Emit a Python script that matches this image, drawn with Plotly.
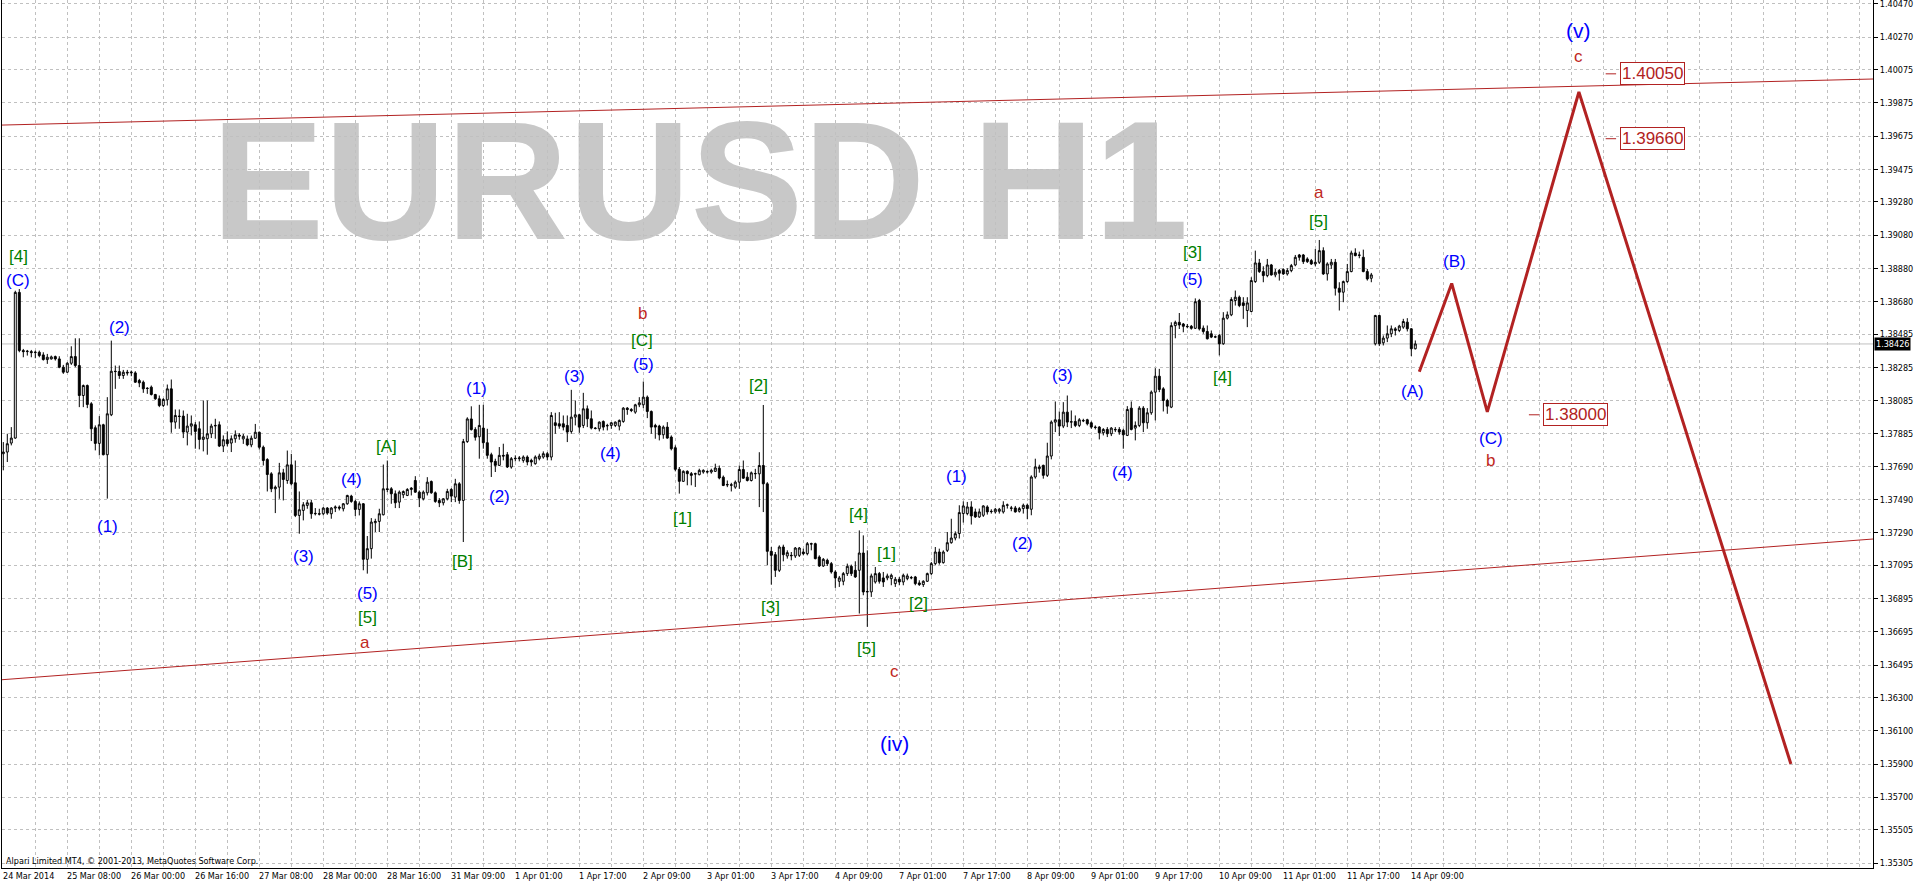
import plotly.graph_objects as go

# ---------------- data ----------------
time_labels = ["24 Mar 2014", "25 Mar 08:00", "26 Mar 00:00", "26 Mar 16:00", "27 Mar 08:00",
               "28 Mar 00:00", "28 Mar 16:00", "31 Mar 09:00", "1 Apr 01:00", "1 Apr 17:00",
               "2 Apr 09:00", "3 Apr 01:00", "3 Apr 17:00", "4 Apr 09:00", "7 Apr 01:00",
               "7 Apr 17:00", "8 Apr 09:00", "9 Apr 01:00", "9 Apr 17:00", "10 Apr 09:00",
               "11 Apr 01:00", "11 Apr 17:00", "14 Apr 09:00"]
bars_per_label = 16

price_ticks = [1.40470, 1.40270, 1.40075, 1.39875, 1.39675, 1.39475, 1.39280, 1.39080, 1.38880,
               1.38680, 1.38485, 1.38285, 1.38085, 1.37885, 1.37690, 1.37490, 1.37290, 1.37095,
               1.36895, 1.36695, 1.36495, 1.36300, 1.36100, 1.35900, 1.35700, 1.35505, 1.35305]

opens = [
 1.37766,1.37776,1.37830,1.37860,1.38736,1.38386,1.38380,1.38380,1.38374,1.38376,
 1.38360,1.38332,1.38336,1.38350,1.38336,1.38286,1.38256,1.38310,1.38350,1.38296,
 1.38116,1.38176,1.38066,1.37922,1.37828,1.37940,1.37760,1.38000,1.38262,1.38260,
 1.38236,1.38256,1.38252,1.38252,1.38206,1.38196,1.38160,1.38166,1.38122,1.38096,
 1.38056,1.38090,1.38156,1.37956,1.37992,1.37992,1.37896,1.37932,1.37940,1.37916,
 1.37852,1.37856,1.37886,1.37936,1.37940,1.37812,1.37850,1.37830,1.37856,1.37878,
 1.37855,1.37855,1.37819,1.37859,1.37895,1.37805,1.37731,1.37645,1.37555,1.37565,
 1.37651,1.37605,1.37699,1.37591,1.37395,1.37425,1.37455,1.37471,1.37405,1.37405,
 1.37405,1.37439,1.37405,1.37439,1.37445,1.37435,1.37465,1.37511,1.37479,1.37431,
 1.37465,1.37131,1.37195,1.37351,1.37359,1.37399,1.37555,1.37555,1.37525,1.37475,
 1.37519,1.37515,1.37551,1.37605,1.37535,1.37495,1.37531,1.37599,1.37531,1.37485,
 1.37471,1.37495,1.37551,1.37505,1.37585,1.37485,1.37839,1.37975,1.37911,1.37868,
 1.37920,1.37832,1.37760,1.37720,1.37696,1.37756,1.37760,1.37686,1.37736,1.37736,
 1.37726,1.37746,1.37726,1.37706,1.37736,1.37746,1.37766,1.37746,1.37952,1.37946,
 1.37946,1.37936,1.37900,1.37986,1.38000,1.37936,1.38036,1.37976,1.37920,1.37916,
 1.37960,1.37936,1.37936,1.37936,1.37932,1.37960,1.38040,1.38032,1.38016,1.38060,
 1.38060,1.38106,1.38020,1.37936,1.37932,1.37880,1.37926,1.37866,1.37802,1.37672,
 1.37600,1.37660,1.37646,1.37646,1.37640,1.37656,1.37656,1.37656,1.37660,1.37678,
 1.37625,1.37581,1.37579,1.37565,1.37595,1.37671,1.37625,1.37605,1.37645,1.37645,
 1.37695,1.37585,1.37179,1.37159,1.37065,1.37205,1.37151,1.37155,1.37151,1.37155,
 1.37175,1.37165,1.37225,1.37225,1.37145,1.37091,1.37125,1.37105,1.37055,1.36999,
 1.36999,1.37045,1.37089,1.37065,1.37065,1.37169,1.36935,1.36935,1.36995,1.37045,
 1.37019,1.37019,1.37015,1.36985,1.37011,1.36995,1.37015,1.37019,1.37025,1.36989,
 1.36979,1.36999,1.37045,1.37105,1.37175,1.37111,1.37185,1.37231,1.37259,1.37286,
 1.37406,1.37406,1.37446,1.37416,1.37386,1.37396,1.37446,1.37420,1.37416,1.37420,
 1.37416,1.37456,1.37440,1.37440,1.37420,1.37436,1.37456,1.37432,1.37626,1.37676,
 1.37696,1.37636,1.37752,1.37956,1.37970,1.37932,1.38016,1.37956,1.37960,1.37936,
 1.37966,1.37970,1.37952,1.37926,1.37926,1.37892,1.37912,1.37886,1.37912,1.37912,
 1.37906,1.37876,1.38040,1.37920,1.37936,1.38040,1.37952,1.38012,1.38136,1.38232,
 1.38156,1.38086,1.38046,1.38536,1.38556,1.38546,1.38532,1.38532,1.38520,1.38687,
 1.38521,1.38501,1.38487,1.38467,1.38477,1.38427,1.38581,1.38601,1.38687,1.38707,
 1.38673,1.38627,1.38621,1.38801,1.38913,1.38861,1.38837,1.38901,1.38841,1.38867,
 1.38873,1.38847,1.38867,1.38901,1.38961,1.38961,1.38937,1.38927,1.38907,1.38917,
 1.38987,1.38847,1.38901,1.38917,1.38761,1.38737,1.38801,1.38861,1.38973,1.38961,
 1.38947,1.38861,1.38821,1.38427,1.38597,1.38433,1.38461,1.38487,1.38507,1.38507,
 1.38527,1.38557,1.38517,1.38397]

highs = [
 1.37836,1.37886,1.37926,1.38746,1.38756,1.38396,1.38390,1.38390,1.38386,1.38386,
 1.38376,1.38366,1.38356,1.38356,1.38352,1.38300,1.38316,1.38412,1.38460,1.38460,
 1.38182,1.38182,1.38076,1.37936,1.37992,1.37946,1.38106,1.38446,1.38296,1.38296,
 1.38270,1.38270,1.38266,1.38262,1.38216,1.38206,1.38166,1.38176,1.38126,1.38116,
 1.38100,1.38182,1.38212,1.38032,1.38032,1.38026,1.38006,1.37996,1.37956,1.37960,
 1.38086,1.38086,1.37946,1.37976,1.37960,1.37876,1.37900,1.37876,1.37906,1.37890,
 1.37885,1.37875,1.37875,1.37945,1.37899,1.37815,1.37739,1.37655,1.37575,1.37711,
 1.37675,1.37785,1.37765,1.37725,1.37539,1.37475,1.37489,1.37489,1.37439,1.37435,
 1.37445,1.37445,1.37445,1.37455,1.37455,1.37469,1.37519,1.37519,1.37489,1.37479,
 1.37469,1.37271,1.37379,1.37375,1.37435,1.37701,1.37725,1.37565,1.37545,1.37545,
 1.37545,1.37559,1.37565,1.37631,1.37545,1.37545,1.37625,1.37605,1.37539,1.37499,
 1.37499,1.37555,1.37559,1.37615,1.37595,1.37855,1.37985,1.38051,1.37925,1.38060,
 1.38060,1.37916,1.37772,1.37736,1.37806,1.37826,1.37776,1.37746,1.37756,1.37752,
 1.37756,1.37756,1.37736,1.37756,1.37766,1.37780,1.37776,1.38016,1.38012,1.38016,
 1.37996,1.37996,1.38150,1.38086,1.38006,1.38132,1.38056,1.38026,1.37926,1.37960,
 1.37966,1.37946,1.37956,1.37960,1.37972,1.38046,1.38046,1.38040,1.38066,1.38106,
 1.38200,1.38116,1.38026,1.37946,1.37940,1.37936,1.37956,1.37876,1.37816,1.37686,
 1.37666,1.37666,1.37656,1.37652,1.37676,1.37672,1.37666,1.37676,1.37706,1.37695,
 1.37635,1.37605,1.37591,1.37605,1.37695,1.37725,1.37655,1.37659,1.37675,1.37775,
 1.38059,1.37595,1.37205,1.37175,1.37215,1.37219,1.37185,1.37175,1.37205,1.37205,
 1.37195,1.37235,1.37231,1.37231,1.37155,1.37139,1.37135,1.37115,1.37065,1.37031,
 1.37055,1.37105,1.37099,1.37119,1.37305,1.37275,1.37185,1.37045,1.37085,1.37055,
 1.37055,1.37045,1.37045,1.37025,1.37025,1.37045,1.37045,1.37031,1.37031,1.37005,
 1.37005,1.37051,1.37115,1.37205,1.37195,1.37185,1.37295,1.37375,1.37299,1.37456,
 1.37480,1.37476,1.37480,1.37436,1.37436,1.37456,1.37456,1.37432,1.37440,1.37440,
 1.37480,1.37466,1.37452,1.37452,1.37446,1.37466,1.37466,1.37636,1.37736,1.37700,
 1.37700,1.37832,1.37966,1.38080,1.38020,1.38076,1.38116,1.38026,1.37996,1.37980,
 1.37976,1.37976,1.37960,1.37936,1.37932,1.37920,1.37926,1.37926,1.37926,1.37926,
 1.37916,1.38052,1.38080,1.37960,1.38052,1.38052,1.38040,1.38146,1.38280,1.38276,
 1.38166,1.38096,1.38556,1.38566,1.38612,1.38552,1.38546,1.38540,1.38700,1.38697,
 1.38537,1.38537,1.38507,1.38477,1.38487,1.38617,1.38621,1.38707,1.38747,1.38717,
 1.38707,1.38707,1.38827,1.38987,1.38937,1.38893,1.38937,1.38907,1.38877,1.38877,
 1.38881,1.38881,1.38907,1.38961,1.38967,1.38967,1.38947,1.38937,1.38997,1.39051,
 1.39007,1.38917,1.38937,1.38937,1.38797,1.38807,1.38907,1.38987,1.39001,1.38981,
 1.38993,1.38877,1.38853,1.38601,1.38601,1.38477,1.38537,1.38537,1.38527,1.38541,
 1.38577,1.38581,1.38521,1.38447]

lows = [
 1.37666,1.37716,1.37816,1.37856,1.38376,1.38346,1.38356,1.38346,1.38340,1.38346,
 1.38326,1.38306,1.38332,1.38326,1.38280,1.38246,1.38252,1.38300,1.38286,1.38046,
 1.38046,1.38040,1.37842,1.37786,1.37756,1.37756,1.37496,1.37992,1.38156,1.38216,
 1.38216,1.38236,1.38232,1.38192,1.38166,1.38132,1.38126,1.38116,1.38090,1.38046,
 1.38046,1.38056,1.37892,1.37916,1.37916,1.37860,1.37816,1.37876,1.37796,1.37792,
 1.37780,1.37760,1.37860,1.37856,1.37806,1.37776,1.37810,1.37776,1.37832,1.37850,
 1.37825,1.37811,1.37805,1.37855,1.37791,1.37695,1.37539,1.37535,1.37409,1.37495,
 1.37485,1.37585,1.37575,1.37385,1.37285,1.37365,1.37435,1.37375,1.37395,1.37395,
 1.37395,1.37399,1.37375,1.37415,1.37425,1.37419,1.37459,1.37471,1.37391,1.37395,
 1.37065,1.37045,1.37135,1.37295,1.37295,1.37395,1.37535,1.37465,1.37439,1.37439,
 1.37499,1.37511,1.37515,1.37531,1.37445,1.37485,1.37515,1.37525,1.37471,1.37445,
 1.37455,1.37485,1.37475,1.37475,1.37465,1.37235,1.37831,1.37905,1.37845,1.37736,
 1.37796,1.37736,1.37626,1.37656,1.37692,1.37726,1.37680,1.37676,1.37720,1.37720,
 1.37712,1.37696,1.37692,1.37700,1.37726,1.37736,1.37726,1.37726,1.37886,1.37916,
 1.37906,1.37836,1.37886,1.37936,1.37892,1.37920,1.37926,1.37912,1.37912,1.37900,
 1.37906,1.37906,1.37916,1.37926,1.37906,1.37952,1.38000,1.38016,1.38006,1.38046,
 1.38040,1.37980,1.37886,1.37856,1.37846,1.37856,1.37856,1.37786,1.37660,1.37526,
 1.37596,1.37576,1.37576,1.37566,1.37636,1.37646,1.37646,1.37646,1.37656,1.37612,
 1.37571,1.37565,1.37539,1.37555,1.37555,1.37615,1.37599,1.37599,1.37615,1.37445,
 1.37415,1.37095,1.36979,1.37025,1.37055,1.37119,1.37135,1.37125,1.37139,1.37145,
 1.37155,1.37155,1.37185,1.37131,1.37085,1.37085,1.37091,1.37045,1.36959,1.36965,
 1.36975,1.37031,1.37031,1.37019,1.36805,1.36915,1.36725,1.36905,1.36985,1.36985,
 1.36965,1.37005,1.36975,1.36965,1.36975,1.36975,1.37005,1.37011,1.36975,1.36971,
 1.36965,1.36995,1.37035,1.37095,1.37099,1.37105,1.37175,1.37225,1.37245,1.37256,
 1.37352,1.37396,1.37340,1.37380,1.37380,1.37386,1.37400,1.37406,1.37406,1.37406,
 1.37406,1.37436,1.37420,1.37412,1.37412,1.37406,1.37372,1.37396,1.37616,1.37652,
 1.37616,1.37626,1.37732,1.37896,1.37872,1.37920,1.37926,1.37920,1.37926,1.37926,
 1.37956,1.37936,1.37916,1.37912,1.37852,1.37876,1.37866,1.37872,1.37896,1.37880,
 1.37796,1.37872,1.37906,1.37846,1.37926,1.37896,1.37916,1.38000,1.37966,1.38136,
 1.38020,1.38006,1.38040,1.38460,1.38516,1.38496,1.38520,1.38512,1.38516,1.38507,
 1.38487,1.38453,1.38461,1.38461,1.38357,1.38421,1.38573,1.38593,1.38657,1.38647,
 1.38577,1.38527,1.38617,1.38793,1.38853,1.38797,1.38827,1.38837,1.38827,1.38807,
 1.38841,1.38837,1.38857,1.38893,1.38927,1.38907,1.38913,1.38901,1.38893,1.38907,
 1.38841,1.38807,1.38877,1.38717,1.38627,1.38677,1.38793,1.38857,1.38953,1.38941,
 1.38857,1.38807,1.38797,1.38417,1.38413,1.38417,1.38437,1.38467,1.38477,1.38497,
 1.38517,1.38501,1.38353,1.38393]

closes = [
 1.37776,1.37826,1.37860,1.38736,1.38386,1.38380,1.38382,1.38374,1.38376,1.38356,
 1.38332,1.38346,1.38348,1.38336,1.38286,1.38256,1.38310,1.38350,1.38296,1.38116,
 1.38176,1.38062,1.37916,1.37828,1.37940,1.37760,1.38006,1.38262,1.38260,1.38236,
 1.38256,1.38252,1.38256,1.38196,1.38192,1.38156,1.38158,1.38122,1.38096,1.38056,
 1.38092,1.38156,1.37956,1.37996,1.37990,1.37896,1.37932,1.37946,1.37900,1.37852,
 1.37866,1.37886,1.37932,1.37934,1.37812,1.37850,1.37826,1.37856,1.37880,1.37872,
 1.37871,1.37819,1.37859,1.37895,1.37805,1.37725,1.37641,1.37555,1.37565,1.37651,
 1.37611,1.37699,1.37585,1.37395,1.37429,1.37459,1.37471,1.37405,1.37407,1.37403,
 1.37439,1.37409,1.37439,1.37445,1.37439,1.37465,1.37515,1.37479,1.37431,1.37465,
 1.37131,1.37195,1.37355,1.37359,1.37405,1.37555,1.37551,1.37525,1.37471,1.37535,
 1.37539,1.37551,1.37559,1.37535,1.37499,1.37535,1.37595,1.37531,1.37479,1.37471,
 1.37495,1.37539,1.37511,1.37585,1.37485,1.37839,1.37975,1.37911,1.37865,1.37936,
 1.37832,1.37756,1.37716,1.37696,1.37756,1.37752,1.37686,1.37736,1.37738,1.37740,
 1.37746,1.37716,1.37716,1.37746,1.37752,1.37766,1.37746,1.37996,1.37936,1.37932,
 1.37926,1.37896,1.37986,1.38000,1.37926,1.38036,1.37976,1.37920,1.37918,1.37956,
 1.37926,1.37934,1.37952,1.37956,1.37966,1.38040,1.38032,1.38026,1.38060,1.38072,
 1.38106,1.38020,1.37926,1.37926,1.37880,1.37926,1.37860,1.37796,1.37672,1.37600,
 1.37660,1.37646,1.37636,1.37644,1.37666,1.37666,1.37658,1.37666,1.37680,1.37620,
 1.37575,1.37579,1.37577,1.37595,1.37671,1.37619,1.37605,1.37651,1.37647,1.37695,
 1.37585,1.37179,1.37155,1.37065,1.37205,1.37159,1.37171,1.37153,1.37199,1.37199,
 1.37165,1.37225,1.37223,1.37135,1.37091,1.37131,1.37105,1.37055,1.37019,1.37019,
 1.37045,1.37089,1.37045,1.37025,1.37169,1.36935,1.36937,1.37031,1.37045,1.36999,
 1.36995,1.37031,1.37035,1.37011,1.36995,1.37035,1.37031,1.37021,1.36985,1.36979,
 1.36999,1.37045,1.37105,1.37175,1.37111,1.37175,1.37231,1.37259,1.37285,1.37412,
 1.37452,1.37446,1.37392,1.37386,1.37416,1.37452,1.37416,1.37418,1.37432,1.37432,
 1.37456,1.37458,1.37438,1.37416,1.37436,1.37456,1.37436,1.37626,1.37686,1.37686,
 1.37636,1.37752,1.37956,1.37970,1.37932,1.38016,1.37956,1.37958,1.37936,1.37970,
 1.37964,1.37946,1.37926,1.37924,1.37892,1.37912,1.37886,1.37920,1.37910,1.37896,
 1.37880,1.38032,1.37912,1.37936,1.38040,1.37952,1.38012,1.38136,1.38232,1.38152,
 1.38086,1.38052,1.38536,1.38556,1.38540,1.38532,1.38530,1.38520,1.38680,1.38517,
 1.38501,1.38457,1.38467,1.38469,1.38427,1.38581,1.38601,1.38693,1.38707,1.38657,
 1.38657,1.38673,1.38807,1.38913,1.38861,1.38837,1.38901,1.38841,1.38857,1.38851,
 1.38847,1.38867,1.38897,1.38947,1.38947,1.38921,1.38921,1.38907,1.38917,1.38987,
 1.38847,1.38907,1.38917,1.38761,1.38737,1.38801,1.38861,1.38973,1.38957,1.38959,
 1.38861,1.38817,1.38841,1.38597,1.38427,1.38461,1.38487,1.38517,1.38517,1.38533,
 1.38561,1.38517,1.38397,1.38426]

current_price = 1.38426

# Trend lines (anchor bar, price)
upper_line_bars = [-0.325, 467.425]
upper_line_prices = [1.39742, 1.40019]
lower_line_bars = [-0.325, 467.425]
lower_line_prices = [1.36407, 1.37253]

# Projected zig-zag path
zigzag_bars = [354.0, 362.1, 371.0, 393.9, 446.9]
zigzag_prices = [1.38259, 1.38790, 1.38018, 1.39941, 1.35900]

# Price tags (text, bar, price)
price_tags = [("1.40050", 412.2, 1.40050), ("1.39660", 412.2, 1.39660), ("1.38000", 393.0, 1.38000)]

# Wave labels: (text, bar, price, colour key, font size)
wave_labels = [
    ("[4]", 3.9, 1.38949, "g", 17), ("(C)", 3.7, 1.38810, "b", 17),
    ("(2)", 29.0, 1.38522, "b", 17), ("(1)", 26.0, 1.37331, "b", 17),
    ("(3)", 75.0, 1.37145, "b", 17), ("(4)", 87.0, 1.37608, "b", 17),
    ("(5)", 91.0, 1.36928, "b", 17), ("[5]", 91.0, 1.36784, "g", 17),
    ("a", 90.4, 1.36628, "r", 17), ("[A]", 95.7, 1.37812, "g", 17),
    ("[B]", 114.9, 1.37115, "g", 17), ("(1)", 118.4, 1.38161, "b", 17),
    ("(2)", 124.0, 1.37506, "b", 17), ("(3)", 142.9, 1.38233, "b", 17),
    ("(4)", 151.9, 1.37770, "b", 17), ("b", 159.7, 1.38612, "r", 17),
    ("[C]", 159.7, 1.38444, "g", 17), ("(5)", 160.0, 1.38305, "b", 17),
    ("[1]", 169.9, 1.37379, "g", 17), ("[2]", 188.9, 1.38179, "g", 17),
    ("[3]", 191.9, 1.36844, "g", 17), ("[4]", 213.9, 1.37403, "g", 17),
    ("[1]", 220.9, 1.37169, "g", 17), ("[2]", 228.9, 1.36868, "g", 17),
    ("[5]", 215.9, 1.36592, "g", 17), ("c", 222.9, 1.36459, "r", 17),
    ("(iv)", 222.9, 1.36026, "b", 21), ("(1)", 238.2, 1.37626, "b", 17),
    ("(2)", 254.9, 1.37229, "b", 17), ("(3)", 264.9, 1.38239, "b", 17),
    ("(4)", 279.9, 1.37656, "b", 17), ("[3]", 297.4, 1.38973, "g", 17),
    ("(5)", 297.4, 1.38816, "b", 17), ("[4]", 304.9, 1.38227, "g", 17),
    ("a", 328.9, 1.39334, "r", 17), ("[5]", 328.9, 1.39165, "g", 17),
    ("(A)", 352.4, 1.38143, "b", 17), ("(B)", 362.9, 1.38919, "b", 17),
    ("(C)", 371.9, 1.37860, "b", 17), ("b", 371.9, 1.37728, "r", 17),
    ("(v)", 393.9, 1.40308, "b", 21), ("c", 393.9, 1.40157, "r", 17),
]

# ---------------- styling ----------------
COLORS = {"b": "#0000FF", "g": "#008000", "r": "#C0281E"}
RED = "#B22222"
GRID = "#C0C0C0"
AXIS_FONT = dict(family="DejaVu Sans Condensed, Liberation Sans, sans-serif", size=9, color="black")
LABEL_FAMILY = "Liberation Sans, Arial, sans-serif"

bars = list(range(len(opens)))

fig = go.Figure()
fig.add_trace(go.Candlestick(
    x=bars, open=opens, high=highs, low=lows, close=closes,
    increasing=dict(line=dict(color="black", width=1), fillcolor="white"),
    decreasing=dict(line=dict(color="black", width=1), fillcolor="black"),
    whiskerwidth=0, showlegend=False, hoverinfo="skip"))

fig.add_trace(go.Scatter(x=upper_line_bars, y=upper_line_prices, mode="lines",
                         line=dict(color=RED, width=1), hoverinfo="skip", showlegend=False))
fig.add_trace(go.Scatter(x=lower_line_bars, y=lower_line_prices, mode="lines",
                         line=dict(color=RED, width=1), hoverinfo="skip", showlegend=False))
fig.add_trace(go.Scatter(x=zigzag_bars, y=zigzag_prices, mode="lines",
                         line=dict(color=RED, width=3), hoverinfo="skip", showlegend=False))

annotations = []
for txt, bx, py, ck, fs in wave_labels:
    annotations.append(dict(x=bx, y=py, xref="x", yref="y", text=txt, showarrow=False,
                            font=dict(family=LABEL_FAMILY, size=fs, color=COLORS[ck]),
                            xanchor="center", yanchor="middle"))

shapes = []
for txt, bx, py in price_tags:
    annotations.append(dict(x=bx, y=py, xref="x", yref="y", text=txt, showarrow=False,
                            font=dict(family=LABEL_FAMILY, size=17, color=RED),
                            bgcolor="white", bordercolor=RED, borderwidth=1, borderpad=1,
                            xanchor="center", yanchor="middle"))
    shapes.append(dict(type="line", xref="x", yref="y", x0=bx - 11.6, x1=bx - 9.0, y0=py, y1=py,
                       line=dict(color=RED, width=1)))

for k, lbl in enumerate(time_labels):
    annotations.append(dict(x=k * bars_per_label, y=0, xref="x", yref="paper", text=lbl,
                            showarrow=False, font=AXIS_FONT, xanchor="left", yanchor="top",
                            yshift=-1, xshift=-2))

annotations.append(dict(x=0, y=0, xref="paper", yref="paper",
                        text="Alpari Limited MT4, © 2001-2013, MetaQuotes Software Corp.",
                        showarrow=False, font=AXIS_FONT, xanchor="left", yanchor="bottom",
                        xshift=2, yshift=0))

annotations.append(dict(x=1, y=current_price, xref="paper", yref="y", text=f"{current_price:.5f}",
                        showarrow=False, font=dict(family=AXIS_FONT["family"], size=9, color="white"),
                        bgcolor="black", xanchor="left", yanchor="middle", xshift=1, borderpad=1))

# bid line
shapes.append(dict(type="line", xref="paper", yref="y", x0=0, x1=1, y0=current_price, y1=current_price,
                   line=dict(color=GRID, width=1), layer="below"))

# watermark
shapes.append(dict(type="rect", xref="paper", yref="paper", x0=0.1165, x1=0.6295, y0=0.7417, y1=0.8787,
                   line=dict(width=0), fillcolor="rgba(0,0,0,0)", layer="below",
                   label=dict(text="EURUSD H1", textposition="middle center",
                              font=dict(family="Liberation Sans, Arial, sans-serif", size=169,
                                        color="#C8C8C8", weight="bold"))))

fig.update_layout(
    width=1916, height=884,
    margin=dict(l=2, r=43, t=0, b=16),
    paper_bgcolor="white", plot_bgcolor="white",
    showlegend=False, hovermode=False,
    annotations=annotations, shapes=shapes,
    xaxis=dict(range=[-0.325, 467.425], showgrid=True, gridcolor=GRID, griddash="3px,3px", gridwidth=1,
               tickmode="linear", tick0=-0.075, dtick=8, showticklabels=False, ticks="",
               zeroline=False, showline=True, linecolor="black", linewidth=1,
               rangeslider=dict(visible=False), fixedrange=True),
    yaxis=dict(range=[1.35275, 1.40494], side="right", tickmode="array", tickvals=price_ticks,
               ticktext=[f"{v:.5f}" for v in price_ticks], showgrid=True, gridcolor=GRID,
               griddash="3px,3px", gridwidth=1, ticks="outside", ticklen=4, tickcolor="black",
               showline=True, linecolor="black", linewidth=1, mirror=True, zeroline=False,
               tickfont=AXIS_FONT, ticklabeloverflow="allow", fixedrange=True),
)

fig.write_html("out.html", config={"displayModeBar": False},
               post_script="document.body.style.margin='0';document.body.style.overflow='hidden';")
